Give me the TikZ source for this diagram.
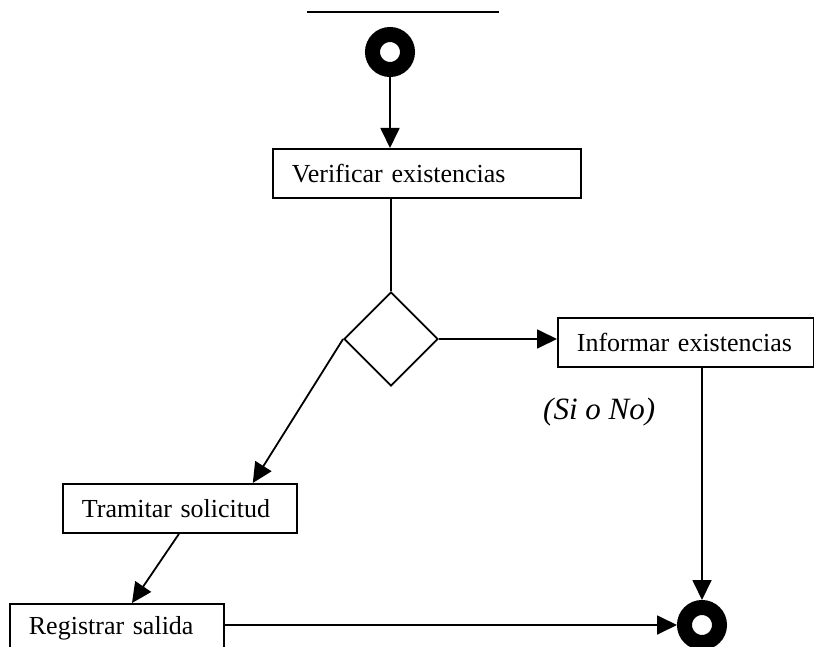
\documentclass[tikz,border=0pt]{standalone}
\usepackage{fontspec}
\setmainfont{Liberation Serif}
\usetikzlibrary{arrows.meta,shapes.geometric}
\begin{document}
\begin{tikzpicture}[x=1pt,y=-1pt,
  act/.style={draw, line width=1.8pt, rectangle, anchor=north west,
    inner xsep=19pt, inner ysep=0pt, align=left, minimum height=49pt,
    font=\fontsize{26}{30}\selectfont},
  decision/.style={draw, line width=1.8pt, diamond, minimum width=94pt,
    minimum height=94pt, inner sep=0pt},
  ring/.style={circle, draw=black, line width=15pt, fill=white,
    minimum size=35pt, inner sep=0pt},
  flow/.style={line width=1.8pt, -{Triangle[length=20pt,width=19pt]}},
  plain/.style={line width=1.8pt}]
\useasboundingbox (0,0) rectangle (814,647);

% bar above the start state
\coordinate (barl) at (307,12);
\coordinate (barr) at (499,12);
\draw[plain] (barl) -- (barr);

% states
\node[ring] (start) at (390,52) {};
\node[ring] (fin) at (702,625) {};

% activities
\node[act, text width=270pt] (verif) at (272,148) {Verificar existencias};
\node[decision] (dec) at (391,339) {};
\node[act, text width=218pt] (inf) at (557,317) {Informar existencias};
\node[act, text width=196pt] (tram) at (62,483) {Tramitar solicitud};
\node[act, text width=176pt] (reg) at (9,603) {Registrar salida};

% guard note
\node[anchor=north west, inner sep=0pt, font=\itshape\fontsize{31}{36}\selectfont]
  (guard) at (543,398) {(Si o No)};

% flows
\draw[flow] (start.south) -- (verif.north -| start.south);
\draw[plain] (verif.south -| dec.north) -- (dec.north);
\draw[flow] (dec.east) -- (inf.west |- dec.east);
\draw[flow] (inf.south -| fin.north) -- (fin.north);
\draw[flow] (dec.west) -- ([xshift=-45pt]tram.north east);
\draw[flow] ([xshift=117pt]tram.south west) -- ([xshift=123pt]reg.north west);
\draw[flow] (reg.east |- fin.west) -- (fin.west);
\end{tikzpicture}
\end{document}
